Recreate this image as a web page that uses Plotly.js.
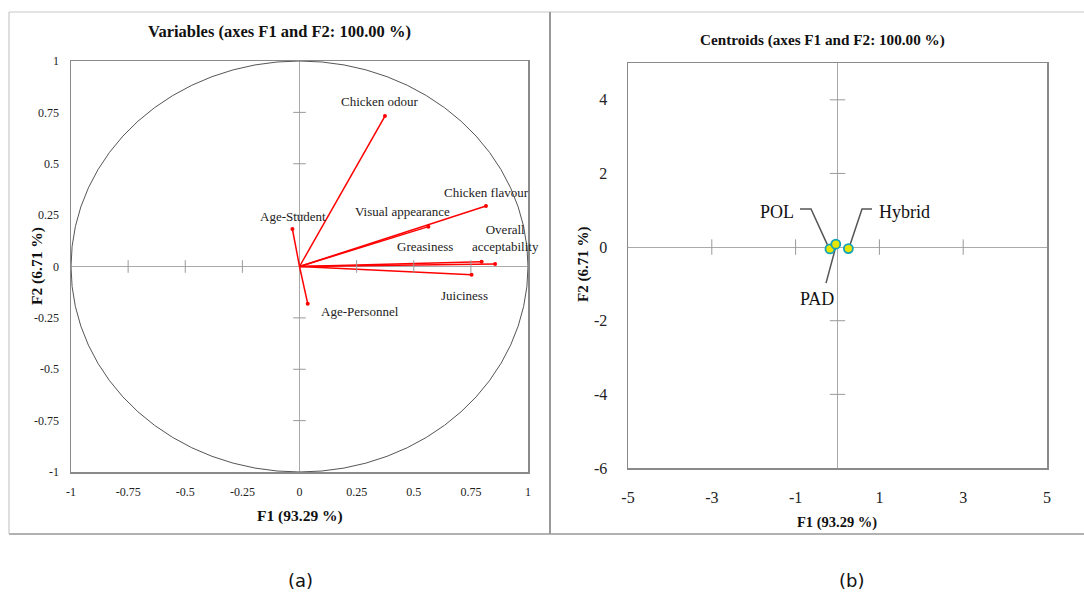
<!DOCTYPE html>
<html><head><meta charset="utf-8">
<script src="https://cdn.plot.ly/plotly-3.0.1.min.js"></script>
<style>html,body{margin:0;padding:0;background:#fff}#c{width:1084px;height:596px}</style>
</head><body><div id="c"></div>
<script>
// ---- Data: variables (correlation circle) ----
const varNames = ["Chicken odour","Chicken flavour","Visual appearance","Overall<br>acceptability","Greasiness","Juiciness","Age-Student","Age-Personnel"];
const varF1 = [0.374, 0.816, 0.564, 0.856, 0.797, 0.753, -0.031, 0.036];
const varF2 = [0.732, 0.294, 0.194, 0.012, 0.023, -0.040, 0.182, -0.181];
// label anchor positions (data units)
const varLabX = [0.353, 0.82, 0.45, 0.90, 0.55, 0.72, -0.03, 0.265];
const varLabY = [0.805, 0.36, 0.27, 0.14, 0.095, -0.14, 0.245, -0.22];
// ---- Data: centroids ----
const grpNames = ["POL","PAD","Hybrid"];
const grpF1 = [-0.18, -0.04, 0.26];
const grpF2 = [-0.05, 0.08, -0.04];
const grpLabX = [-1.44, -0.49, 1.61];
const grpLabY = [0.95, -1.42, 0.95];
// leader lines (label side points) for each centroid
const leadX = [[-0.895,-0.632,-0.227],[-0.274,-0.036],[0.823,0.585,0.298]];
const leadY = [[1.035,1.035,0.027],[-0.98,0.027],[1.035,1.035,0.054]];
// ---- Tick labels ----
const ticksA = [-1,-0.75,-0.5,-0.25,0,0.25,0.5,0.75,1];
const ticksAText = ["-1","-0.75","-0.5","-0.25","0","0.25","0.5","0.75","1"];
const crossA = [-0.75,-0.5,-0.25,0.25,0.5,0.75];
const ticksBx = [-5,-3,-1,1,3,5];
const ticksBxText = ["-5","-3","-1","1","3","5"];
const ticksBy = [-6,-4,-2,0,2,4];
const ticksByText = ["-6","-4","-2","0","2","4"];
const crossBx = [-3,-1,1,3];
const crossBy = [-4,-2,2,4];

const W = 1084, H = 596;
const px = v => v / W, py = v => 1 - v / H;
const SERIF = "Liberation Serif, Times New Roman, serif";

const traces = [];
// vectors
const vx = [], vy = [];
varF1.forEach((x,i)=>{ vx.push(0, x, null); vy.push(0, varF2[i], null); });
traces.push({x: vx, y: vy, xaxis:'x', yaxis:'y', mode:'lines', line:{color:'#ff0000', width:1.5}, hoverinfo:'skip', showlegend:false});
traces.push({x: varF1, y: varF2, xaxis:'x', yaxis:'y', mode:'markers', marker:{color:'#ff0000', size:4}, text: varNames, showlegend:false});
// cross ticks on zero lines (panel a)
traces.push({x: crossA, y: crossA.map(()=>0), xaxis:'x', yaxis:'y', mode:'markers', marker:{symbol:'line-ns', size:9, line:{color:'#999', width:1}}, hoverinfo:'skip', showlegend:false});
traces.push({x: crossA.map(()=>0), y: crossA, xaxis:'x', yaxis:'y', mode:'markers', marker:{symbol:'line-ew', size:9, line:{color:'#999', width:1}}, hoverinfo:'skip', showlegend:false});
// cross ticks panel b
traces.push({x: crossBx, y: crossBx.map(()=>0), xaxis:'x2', yaxis:'y2', mode:'markers', marker:{symbol:'line-ns', size:11, line:{color:'#999', width:1}}, hoverinfo:'skip', showlegend:false});
traces.push({x: crossBy.map(()=>0), y: crossBy, xaxis:'x2', yaxis:'y2', mode:'markers', marker:{symbol:'line-ew', size:11, line:{color:'#999', width:1}}, hoverinfo:'skip', showlegend:false});
// leader lines
leadX.forEach((lx,i)=>{
  traces.push({x: lx, y: leadY[i], xaxis:'x2', yaxis:'y2', mode:'lines', line:{color:'#555', width:1.5}, hoverinfo:'skip', showlegend:false});
});
// centroids
traces.push({x: grpF1, y: grpF2, xaxis:'x2', yaxis:'y2', mode:'markers', text: grpNames,
  marker:{color:'#e6e600', size:9, line:{color:'#14a3b8', width:1.8}}, showlegend:false});

const annotations = [];
const ann = (o) => annotations.push(Object.assign({showarrow:false, xanchor:'center', yanchor:'middle'}, o));
varNames.forEach((n,i)=>ann({x:varLabX[i], y:varLabY[i], xref:'x', yref:'y', text:n, font:{family:SERIF, size:13, color:'#222'}}));
grpNames.forEach((n,i)=>ann({x:grpLabX[i], y:grpLabY[i], xref:'x2', yref:'y2', text:n, font:{family:SERIF, size:18, color:'#111'}}));
// titles
ann({x:px(279), y:py(31), xref:'paper', yref:'paper', text:'<b>Variables (axes F1 and F2: 100.00 %)</b>', font:{family:SERIF, size:16.5, color:'#111'}});
ann({x:px(822), y:py(40), xref:'paper', yref:'paper', text:'<b>Centroids (axes F1 and F2: 100.00 %)</b>', font:{family:SERIF, size:15.2, color:'#111'}});
ann({x:px(299.5), y:py(516), xref:'paper', yref:'paper', text:'<b>F1 (93.29 %)</b>', font:{family:SERIF, size:15.5, color:'#111'}});
ann({x:px(37), y:py(266), xref:'paper', yref:'paper', text:'<b>F2 (6.71 %)</b>', textangle:-90, font:{family:SERIF, size:15.5, color:'#111'}});
ann({x:px(837), y:py(522), xref:'paper', yref:'paper', text:'<b>F1 (93.29 %)</b>', font:{family:SERIF, size:14.5, color:'#111'}});
ann({x:px(583), y:py(265), xref:'paper', yref:'paper', text:'<b>F2 (6.71 %)</b>', textangle:-90, font:{family:SERIF, size:15, color:'#111'}});
ann({x:px(300), y:py(580), xref:'paper', yref:'paper', text:'(a)', font:{family:'DejaVu Sans, sans-serif', size:18, color:'#111'}});
ann({x:px(851), y:py(580), xref:'paper', yref:'paper', text:'(b)', font:{family:'DejaVu Sans, sans-serif', size:18, color:'#111'}});

const shapes = [
  {type:'circle', xref:'x', yref:'y', x0:-1, y0:-1, x1:1, y1:1, line:{color:'#555', width:1}},
  // panel frames
  {type:'line', xref:'paper', yref:'paper', x0:px(9), x1:1, y0:py(12), y1:py(12), line:{color:'#c8c8c8', width:1.2}},
  {type:'line', xref:'paper', yref:'paper', x0:px(9), x1:1, y0:py(534), y1:py(534), line:{color:'#999', width:1.5}},
  {type:'line', xref:'paper', yref:'paper', x0:px(9), x1:px(9), y0:py(12), y1:py(534), line:{color:'#c8c8c8', width:1.2}},
  {type:'line', xref:'paper', yref:'paper', x0:px(550), x1:px(550), y0:py(12), y1:py(534), line:{color:'#999', width:2}}
];

const axBase = {showgrid:false, zeroline:true, zerolinecolor:'#aaa', zerolinewidth:1, showline:true, mirror:true, linecolor:'#8a8a8a', linewidth:1.5, ticks:'', tickmode:'array', fixedrange:true};

const layout = {
  width:W, height:H, margin:{l:0,r:0,t:0,b:0}, paper_bgcolor:'#fff', plot_bgcolor:'#fff', showlegend:false,
  xaxis: Object.assign({}, axBase, {domain:[px(71), px(528)], range:[-1,1], tickvals:ticksA, ticktext:ticksAText, anchor:'y', ticklabelstandoff:8, tickfont:{family:SERIF, size:12, color:'#222'}}),
  yaxis: Object.assign({}, axBase, {domain:[py(472), py(61)], range:[-1,1], tickvals:ticksA, ticktext:ticksAText, anchor:'x', ticklabelstandoff:8, tickfont:{family:SERIF, size:12, color:'#222'}}),
  xaxis2: Object.assign({}, axBase, {domain:[px(628), px(1047)], range:[-5,5], tickvals:ticksBx, ticktext:ticksBxText, anchor:'y2', ticklabelstandoff:14, tickfont:{family:SERIF, size:16, color:'#222'}}),
  yaxis2: Object.assign({}, axBase, {domain:[py(468), py(63)], range:[-6,5], tickvals:ticksBy, ticktext:ticksByText, anchor:'x2', ticklabelstandoff:16, tickfont:{family:SERIF, size:16, color:'#222'}}),
  annotations, shapes
};
Plotly.newPlot('c', traces, layout, {staticPlot:true});
</script></body></html>
